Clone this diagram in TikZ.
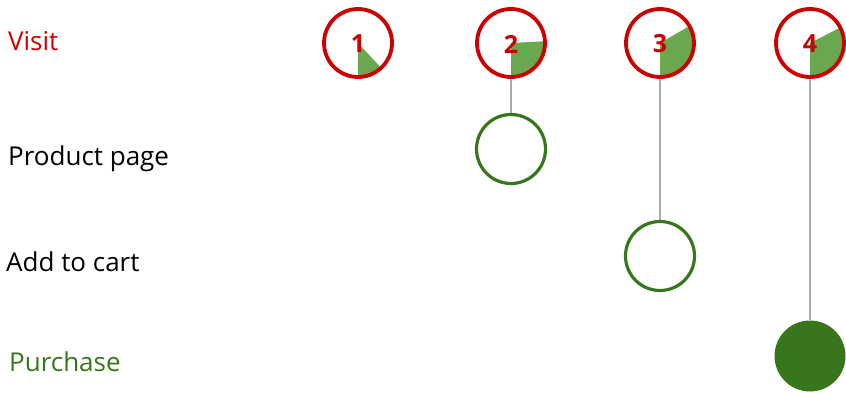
\documentclass[tikz,border=0pt]{standalone}
\usepackage{fontspec}
\setmainfont{Open Sans}
\definecolor{vred}{HTML}{CC0000}
\definecolor{lgreen}{HTML}{6AA84F}
\definecolor{dgreen}{HTML}{38761D}
\definecolor{lgray}{HTML}{ABABAB}
\begin{document}
\begin{tikzpicture}[x=1pt,y=-1pt,
  lbl/.style={anchor=base west,inner sep=0pt,font=\fontsize{26}{30}\selectfont},
  visitc/.style={circle,draw=vred,line width=3.8pt,minimum size=68pt,inner sep=0pt},
  stepc/.style={circle,draw=dgreen,line width=3.2pt,minimum size=69pt,inner sep=0pt},
  buyc/.style={circle,fill=dgreen,minimum size=71pt,inner sep=0pt},
  num/.style={text=vred,font=\fontsize{25}{29}\selectfont\bfseries,inner sep=0pt},
  conn/.style={draw=lgray,line width=2.6pt},
  wedge/.style={fill=lgreen}]
\useasboundingbox (0,0) rectangle (846,393);
% labels
\node[lbl,text=vred] (lv) at (8,50.5) {Visit};
\node[lbl] (lp) at (8,165) {Product page};
\node[lbl] (la) at (6,271.5) {Add to cart};
\node[lbl,text=dgreen] (lu) at (9,371.5) {Purchase};
% wedges
\fill[wedge] (358,43) -- ++(0,33) arc[start angle=90,end angle=47,radius=33] -- cycle;
\fill[wedge] (511,43) -- ++(0,33) arc[start angle=90,end angle=-3,radius=33] -- cycle;
\fill[wedge] (660,43) -- ++(0,33) arc[start angle=90,end angle=-30,radius=33] -- cycle;
\fill[wedge] (810,43) -- ++(0,33) arc[start angle=90,end angle=-27,radius=33] -- cycle;
% top circles
\node[visitc] (v1) at (358,43) {};
\node[visitc] (v2) at (511,43) {};
\node[visitc] (v3) at (660,43) {};
\node[visitc] (v4) at (810,43) {};
\node[num] (n1) at (358,44) {1};
\node[num] (n2) at (511,44) {2};
\node[num] (n3) at (660,44) {3};
\node[num] (n4) at (810,44) {4};
% lower circles
\node[stepc] (p2) at (511,149) {};
\node[stepc] (a3) at (660,256) {};
\node[buyc] (b4) at (810,356) {};
% connectors
\draw[conn] (v2.south) -- (p2.north);
\draw[conn] (v3.south) -- (a3.north);
\draw[conn] (v4.south) -- (b4.north);
\end{tikzpicture}
\end{document}
